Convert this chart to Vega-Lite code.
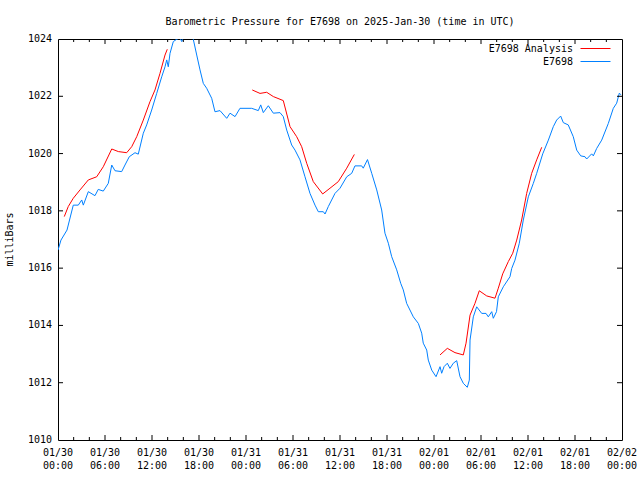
{
 "$schema": "https://vega.github.io/schema/vega-lite/v6.json",
 "autosize": "none",
 "width": 564, "height": 401,
 "padding": {"left": 58, "top": 39, "right": 18, "bottom": 40},
 "background": "white",
 "title": {"text": "Barometric Pressure for E7698 on 2025-Jan-30 (time in UTC)", "font": "DejaVu Sans Mono", "fontSize": 10, "fontWeight": "normal", "color": "black", "anchor": "middle", "offset": 7},
 "config": {
  "view": {"stroke": "black", "strokeWidth": 1}
 },
 "datasets": {
  "xmajor": [{"t":6},{"t":12},{"t":18},{"t":24},{"t":30},{"t":36},{"t":42},{"t":48},{"t":54},{"t":60},{"t":66}],
  "xminor": [{"t":2},{"t":4},{"t":8},{"t":10},{"t":14},{"t":16},{"t":20},{"t":22},{"t":26},{"t":28},{"t":32},{"t":34},{"t":38},{"t":40},{"t":44},{"t":46},{"t":50},{"t":52},{"t":56},{"t":58},{"t":62},{"t":64},{"t":68},{"t":70}],
  "ymajor": [{"v":1012},{"v":1014},{"v":1016},{"v":1018},{"v":1020},{"v":1022}],
  "xlabels": [{"t":0,"lab":"01/30\n00:00"},{"t":6,"lab":"01/30\n06:00"},{"t":12,"lab":"01/30\n12:00"},{"t":18,"lab":"01/30\n18:00"},{"t":24,"lab":"01/31\n00:00"},{"t":30,"lab":"01/31\n06:00"},{"t":36,"lab":"01/31\n12:00"},{"t":42,"lab":"01/31\n18:00"},{"t":48,"lab":"02/01\n00:00"},{"t":54,"lab":"02/01\n06:00"},{"t":60,"lab":"02/01\n12:00"},{"t":66,"lab":"02/01\n18:00"},{"t":72,"lab":"02/02\n00:00"}],
  "ylabels": [{"v":1010,"lab":"1010"},{"v":1012,"lab":"1012"},{"v":1014,"lab":"1014"},{"v":1016,"lab":"1016"},{"v":1018,"lab":"1018"},{"v":1020,"lab":"1020"},{"v":1022,"lab":"1022"},{"v":1024,"lab":"1024"}],
  "ytitle": [{"lab":"milliBars"}]
 },
 "data": {"values": [
  {"s":"E7698","seg":0,"h":0.0,"p":1016.63},{"s":"E7698","seg":0,"h":0.38,"p":1016.98},{"s":"E7698","seg":0,"h":1.15,"p":1017.33},{"s":"E7698","seg":0,"h":1.95,"p":1018.2},{"s":"E7698","seg":0,"h":2.59,"p":1018.2},{"s":"E7698","seg":0,"h":3.03,"p":1018.38},{"s":"E7698","seg":0,"h":3.23,"p":1018.2},{"s":"E7698","seg":0,"h":3.87,"p":1018.67},{"s":"E7698","seg":0,"h":4.72,"p":1018.53},{"s":"E7698","seg":0,"h":5.14,"p":1018.75},{"s":"E7698","seg":0,"h":5.78,"p":1018.69},{"s":"E7698","seg":0,"h":6.42,"p":1018.96},{"s":"E7698","seg":0,"h":6.86,"p":1019.6},{"s":"E7698","seg":0,"h":7.28,"p":1019.4},{"s":"E7698","seg":0,"h":8.13,"p":1019.37},{"s":"E7698","seg":0,"h":8.55,"p":1019.6},{"s":"E7698","seg":0,"h":9.1,"p":1019.89},{"s":"E7698","seg":0,"h":9.83,"p":1020.03},{"s":"E7698","seg":0,"h":10.25,"p":1019.98},{"s":"E7698","seg":0,"h":10.89,"p":1020.71},{"s":"E7698","seg":0,"h":11.32,"p":1021.0},{"s":"E7698","seg":0,"h":11.96,"p":1021.52},{"s":"E7698","seg":0,"h":12.6,"p":1022.1},{"s":"E7698","seg":0,"h":13.24,"p":1022.68},{"s":"E7698","seg":0,"h":13.66,"p":1023.03},{"s":"E7698","seg":0,"h":13.88,"p":1023.27},{"s":"E7698","seg":0,"h":14.08,"p":1023.03},{"s":"E7698","seg":0,"h":14.3,"p":1023.5},{"s":"E7698","seg":0,"h":14.72,"p":1023.91},{"s":"E7698","seg":0,"h":15.15,"p":1023.99},{"s":"E7698","seg":0,"h":15.57,"p":1024.04},{"s":"E7698","seg":0,"h":15.79,"p":1023.91},{"s":"E7698","seg":0,"h":16.21,"p":1024.14},{"s":"E7698","seg":0,"h":16.85,"p":1024.24},{"s":"E7698","seg":0,"h":17.27,"p":1023.99},{"s":"E7698","seg":0,"h":17.71,"p":1023.44},{"s":"E7698","seg":0,"h":18.13,"p":1022.92},{"s":"E7698","seg":0,"h":18.55,"p":1022.45},{"s":"E7698","seg":0,"h":18.98,"p":1022.28},{"s":"E7698","seg":0,"h":19.62,"p":1021.93},{"s":"E7698","seg":0,"h":20.04,"p":1021.46},{"s":"E7698","seg":0,"h":20.68,"p":1021.5},{"s":"E7698","seg":0,"h":21.54,"p":1021.23},{"s":"E7698","seg":0,"h":21.96,"p":1021.41},{"s":"E7698","seg":0,"h":22.6,"p":1021.29},{"s":"E7698","seg":0,"h":23.23,"p":1021.58},{"s":"E7698","seg":0,"h":24.73,"p":1021.58},{"s":"E7698","seg":0,"h":25.57,"p":1021.5},{"s":"E7698","seg":0,"h":25.88,"p":1021.7},{"s":"E7698","seg":0,"h":26.21,"p":1021.43},{"s":"E7698","seg":0,"h":26.85,"p":1021.67},{"s":"E7698","seg":0,"h":27.49,"p":1021.41},{"s":"E7698","seg":0,"h":28.34,"p":1021.43},{"s":"E7698","seg":0,"h":28.76,"p":1021.29},{"s":"E7698","seg":0,"h":29.2,"p":1020.82},{"s":"E7698","seg":0,"h":29.83,"p":1020.3},{"s":"E7698","seg":0,"h":30.26,"p":1020.12},{"s":"E7698","seg":0,"h":30.89,"p":1019.78},{"s":"E7698","seg":0,"h":31.53,"p":1019.19},{"s":"E7698","seg":0,"h":32.17,"p":1018.61},{"s":"E7698","seg":0,"h":32.81,"p":1018.2},{"s":"E7698","seg":0,"h":33.23,"p":1017.97},{"s":"E7698","seg":0,"h":33.87,"p":1017.97},{"s":"E7698","seg":0,"h":34.09,"p":1017.89},{"s":"E7698","seg":0,"h":34.51,"p":1018.15},{"s":"E7698","seg":0,"h":35.36,"p":1018.61},{"s":"E7698","seg":0,"h":36.0,"p":1018.79},{"s":"E7698","seg":0,"h":36.86,"p":1019.19},{"s":"E7698","seg":0,"h":37.49,"p":1019.31},{"s":"E7698","seg":0,"h":37.91,"p":1019.57},{"s":"E7698","seg":0,"h":38.77,"p":1019.57},{"s":"E7698","seg":0,"h":38.97,"p":1019.49},{"s":"E7698","seg":0,"h":39.51,"p":1019.79},{"s":"E7698","seg":0,"h":40.05,"p":1019.31},{"s":"E7698","seg":0,"h":40.69,"p":1018.73},{"s":"E7698","seg":0,"h":41.32,"p":1018.03},{"s":"E7698","seg":0,"h":41.74,"p":1017.22},{"s":"E7698","seg":0,"h":42.17,"p":1016.87},{"s":"E7698","seg":0,"h":42.6,"p":1016.4},{"s":"E7698","seg":0,"h":43.24,"p":1015.94},{"s":"E7698","seg":0,"h":43.75,"p":1015.47},{"s":"E7698","seg":0,"h":44.08,"p":1015.24},{"s":"E7698","seg":0,"h":44.51,"p":1014.77},{"s":"E7698","seg":0,"h":45.36,"p":1014.3},{"s":"E7698","seg":0,"h":46.0,"p":1014.07},{"s":"E7698","seg":0,"h":46.43,"p":1013.73},{"s":"E7698","seg":0,"h":46.63,"p":1013.38},{"s":"E7698","seg":0,"h":47.07,"p":1013.14},{"s":"E7698","seg":0,"h":47.27,"p":1012.79},{"s":"E7698","seg":0,"h":47.71,"p":1012.44},{"s":"E7698","seg":0,"h":48.26,"p":1012.21},{"s":"E7698","seg":0,"h":48.77,"p":1012.56},{"s":"E7698","seg":0,"h":48.98,"p":1012.33},{"s":"E7698","seg":0,"h":49.28,"p":1012.56},{"s":"E7698","seg":0,"h":49.7,"p":1012.68},{"s":"E7698","seg":0,"h":50.04,"p":1012.5},{"s":"E7698","seg":0,"h":50.46,"p":1012.68},{"s":"E7698","seg":0,"h":50.9,"p":1012.77},{"s":"E7698","seg":0,"h":51.32,"p":1012.21},{"s":"E7698","seg":0,"h":51.74,"p":1011.98},{"s":"E7698","seg":0,"h":52.25,"p":1011.84},{"s":"E7698","seg":0,"h":52.51,"p":1012.09},{"s":"E7698","seg":0,"h":52.6,"p":1013.49},{"s":"E7698","seg":0,"h":53.02,"p":1014.3},{"s":"E7698","seg":0,"h":53.45,"p":1014.65},{"s":"E7698","seg":0,"h":54.09,"p":1014.42},{"s":"E7698","seg":0,"h":54.64,"p":1014.42},{"s":"E7698","seg":0,"h":54.93,"p":1014.3},{"s":"E7698","seg":0,"h":55.37,"p":1014.48},{"s":"E7698","seg":0,"h":55.57,"p":1014.25},{"s":"E7698","seg":0,"h":55.98,"p":1014.48},{"s":"E7698","seg":0,"h":56.21,"p":1015.0},{"s":"E7698","seg":0,"h":56.85,"p":1015.35},{"s":"E7698","seg":0,"h":57.7,"p":1015.7},{"s":"E7698","seg":0,"h":57.92,"p":1015.99},{"s":"E7698","seg":0,"h":58.34,"p":1016.28},{"s":"E7698","seg":0,"h":58.89,"p":1016.87},{"s":"E7698","seg":0,"h":59.4,"p":1017.68},{"s":"E7698","seg":0,"h":60.04,"p":1018.49},{"s":"E7698","seg":0,"h":60.68,"p":1018.96},{"s":"E7698","seg":0,"h":61.11,"p":1019.31},{"s":"E7698","seg":0,"h":61.88,"p":1019.99},{"s":"E7698","seg":0,"h":62.6,"p":1020.47},{"s":"E7698","seg":0,"h":63.23,"p":1020.94},{"s":"E7698","seg":0,"h":63.66,"p":1021.17},{"s":"E7698","seg":0,"h":64.17,"p":1021.31},{"s":"E7698","seg":0,"h":64.51,"p":1021.08},{"s":"E7698","seg":0,"h":65.14,"p":1021.0},{"s":"E7698","seg":0,"h":65.78,"p":1020.59},{"s":"E7698","seg":0,"h":66.22,"p":1020.12},{"s":"E7698","seg":0,"h":66.73,"p":1019.92},{"s":"E7698","seg":0,"h":67.28,"p":1019.89},{"s":"E7698","seg":0,"h":67.49,"p":1019.81},{"s":"E7698","seg":0,"h":68.13,"p":1019.99},{"s":"E7698","seg":0,"h":68.34,"p":1019.92},{"s":"E7698","seg":0,"h":68.77,"p":1020.18},{"s":"E7698","seg":0,"h":69.41,"p":1020.47},{"s":"E7698","seg":0,"h":70.25,"p":1021.05},{"s":"E7698","seg":0,"h":70.89,"p":1021.58},{"s":"E7698","seg":0,"h":71.32,"p":1021.76},{"s":"E7698","seg":0,"h":71.66,"p":1022.11},{"s":"E7698","seg":0,"h":71.87,"p":1022.05},
  {"s":"E7698 Analysis","seg":1,"h":0.8,"p":1017.8},{"s":"E7698 Analysis","seg":1,"h":1.31,"p":1018.15},{"s":"E7698 Analysis","seg":1,"h":1.95,"p":1018.44},{"s":"E7698 Analysis","seg":1,"h":2.81,"p":1018.73},{"s":"E7698 Analysis","seg":1,"h":3.87,"p":1019.08},{"s":"E7698 Analysis","seg":1,"h":4.94,"p":1019.19},{"s":"E7698 Analysis","seg":1,"h":5.78,"p":1019.54},{"s":"E7698 Analysis","seg":1,"h":6.86,"p":1020.16},{"s":"E7698 Analysis","seg":1,"h":7.7,"p":1020.07},{"s":"E7698 Analysis","seg":1,"h":8.77,"p":1020.03},{"s":"E7698 Analysis","seg":1,"h":9.41,"p":1020.24},{"s":"E7698 Analysis","seg":1,"h":10.05,"p":1020.59},{"s":"E7698 Analysis","seg":1,"h":10.89,"p":1021.17},{"s":"E7698 Analysis","seg":1,"h":11.74,"p":1021.81},{"s":"E7698 Analysis","seg":1,"h":12.38,"p":1022.22},{"s":"E7698 Analysis","seg":1,"h":13.02,"p":1022.8},{"s":"E7698 Analysis","seg":1,"h":13.66,"p":1023.44},{"s":"E7698 Analysis","seg":1,"h":13.95,"p":1023.64},
  {"s":"E7698 Analysis","seg":2,"h":24.8,"p":1022.22},{"s":"E7698 Analysis","seg":2,"h":25.79,"p":1022.1},{"s":"E7698 Analysis","seg":2,"h":26.64,"p":1022.14},{"s":"E7698 Analysis","seg":2,"h":27.49,"p":1021.99},{"s":"E7698 Analysis","seg":2,"h":28.76,"p":1021.85},{"s":"E7698 Analysis","seg":2,"h":29.62,"p":1020.94},{"s":"E7698 Analysis","seg":2,"h":30.47,"p":1020.59},{"s":"E7698 Analysis","seg":2,"h":31.11,"p":1020.24},{"s":"E7698 Analysis","seg":2,"h":31.75,"p":1019.66},{"s":"E7698 Analysis","seg":2,"h":32.59,"p":1019.02},{"s":"E7698 Analysis","seg":2,"h":33.79,"p":1018.59},{"s":"E7698 Analysis","seg":2,"h":34.72,"p":1018.79},{"s":"E7698 Analysis","seg":2,"h":35.78,"p":1019.02},{"s":"E7698 Analysis","seg":2,"h":36.86,"p":1019.49},{"s":"E7698 Analysis","seg":2,"h":37.83,"p":1019.97},
  {"s":"E7698 Analysis","seg":3,"h":48.77,"p":1012.97},{"s":"E7698 Analysis","seg":3,"h":49.7,"p":1013.2},{"s":"E7698 Analysis","seg":3,"h":50.68,"p":1013.05},{"s":"E7698 Analysis","seg":3,"h":51.74,"p":1012.97},{"s":"E7698 Analysis","seg":3,"h":52.09,"p":1013.38},{"s":"E7698 Analysis","seg":3,"h":52.6,"p":1014.36},{"s":"E7698 Analysis","seg":3,"h":53.23,"p":1014.77},{"s":"E7698 Analysis","seg":3,"h":53.78,"p":1015.21},{"s":"E7698 Analysis","seg":3,"h":54.73,"p":1015.03},{"s":"E7698 Analysis","seg":3,"h":55.79,"p":1014.95},{"s":"E7698 Analysis","seg":3,"h":56.21,"p":1015.3},{"s":"E7698 Analysis","seg":3,"h":56.77,"p":1015.8},{"s":"E7698 Analysis","seg":3,"h":57.49,"p":1016.23},{"s":"E7698 Analysis","seg":3,"h":58.05,"p":1016.52},{"s":"E7698 Analysis","seg":3,"h":58.56,"p":1016.98},{"s":"E7698 Analysis","seg":3,"h":59.19,"p":1017.68},{"s":"E7698 Analysis","seg":3,"h":59.83,"p":1018.61},{"s":"E7698 Analysis","seg":3,"h":60.47,"p":1019.31},{"s":"E7698 Analysis","seg":3,"h":61.11,"p":1019.78},{"s":"E7698 Analysis","seg":3,"h":61.75,"p":1020.22}
 ]},
 "layer": [
  {
   "mark": {"type": "line", "clip": true, "strokeWidth": 1},
   "encoding": {
    "x": {"field": "h", "type": "quantitative", "scale": {"domain": [0, 72], "nice": false, "zero": false}, "axis": null},
    "y": {"field": "p", "type": "quantitative", "scale": {"domain": [1010, 1024], "nice": false, "zero": false}, "axis": null},
    "color": {"field": "s", "type": "nominal", "scale": {"domain": ["E7698 Analysis", "E7698"], "range": ["#ff0000", "#0080ff"]},
              "legend": {"orient": "none", "legendX": 532, "legendY": 4, "padding": 0, "title": null, "symbolType": "M-3,0H3", "symbolSize": 100, "symbolStrokeWidth": 1, "symbolFillColor": "transparent", "labelFont": "DejaVu Sans Mono", "labelFontSize": 10, "labelColor": "black", "labelAlign": "right", "labelOffset": -28, "rowPadding": 2}},
    "detail": {"field": "seg", "type": "nominal"}
   }
  },
  {
   "data": {"name": "xmajor"},
   "mark": {"type": "rule", "color": "black", "strokeWidth": 1, "y2Offset": -5},
   "encoding": {"x": {"field": "t", "type": "quantitative", "axis": null}, "y": {"datum": 1010, "type": "quantitative", "axis": null}, "y2": {"datum": 1010}}
  },
  {
   "data": {"name": "xmajor"},
   "mark": {"type": "rule", "color": "black", "strokeWidth": 1, "y2Offset": 5},
   "encoding": {"x": {"field": "t", "type": "quantitative", "axis": null}, "y": {"datum": 1024, "type": "quantitative", "axis": null}, "y2": {"datum": 1024}}
  },
  {
   "data": {"name": "xminor"},
   "mark": {"type": "rule", "color": "black", "strokeWidth": 1, "y2Offset": -3},
   "encoding": {"x": {"field": "t", "type": "quantitative", "axis": null}, "y": {"datum": 1010, "type": "quantitative", "axis": null}, "y2": {"datum": 1010}}
  },
  {
   "data": {"name": "xminor"},
   "mark": {"type": "rule", "color": "black", "strokeWidth": 1, "y2Offset": 3},
   "encoding": {"x": {"field": "t", "type": "quantitative", "axis": null}, "y": {"datum": 1024, "type": "quantitative", "axis": null}, "y2": {"datum": 1024}}
  },
  {
   "data": {"name": "ymajor"},
   "mark": {"type": "rule", "color": "black", "strokeWidth": 1, "x2Offset": 5},
   "encoding": {"y": {"field": "v", "type": "quantitative", "axis": null}, "x": {"datum": 0, "type": "quantitative", "axis": null}, "x2": {"datum": 0}}
  },
  {
   "data": {"name": "ymajor"},
   "mark": {"type": "rule", "color": "black", "strokeWidth": 1, "x2Offset": -5},
   "encoding": {"y": {"field": "v", "type": "quantitative", "axis": null}, "x": {"datum": 72, "type": "quantitative", "axis": null}, "x2": {"datum": 72}}
  },
  {
   "data": {"name": "xlabels"},
   "mark": {"type": "text", "font": "DejaVu Sans Mono", "fontSize": 10, "color": "black", "align": "center", "baseline": "top", "dy": 8, "lineBreak": "\n", "lineHeight": 13},
   "encoding": {"x": {"field": "t", "type": "quantitative", "axis": null}, "y": {"datum": 1010, "type": "quantitative", "axis": null}, "text": {"field": "lab"}}
  },
  {
   "data": {"name": "ylabels"},
   "mark": {"type": "text", "font": "DejaVu Sans Mono", "fontSize": 10, "color": "black", "align": "right", "baseline": "middle", "dx": -6},
   "encoding": {"y": {"field": "v", "type": "quantitative", "axis": null}, "x": {"datum": 0, "type": "quantitative", "axis": null}, "text": {"field": "lab"}}
  },
  {
   "data": {"name": "ytitle"},
   "mark": {"type": "text", "font": "DejaVu Sans Mono", "fontSize": 10, "color": "black", "align": "center", "baseline": "middle", "angle": 270, "dy": -48},
   "encoding": {"y": {"datum": 1017, "type": "quantitative", "axis": null}, "x": {"datum": 0, "type": "quantitative", "axis": null}, "text": {"field": "lab"}}
  }
 ]
}
